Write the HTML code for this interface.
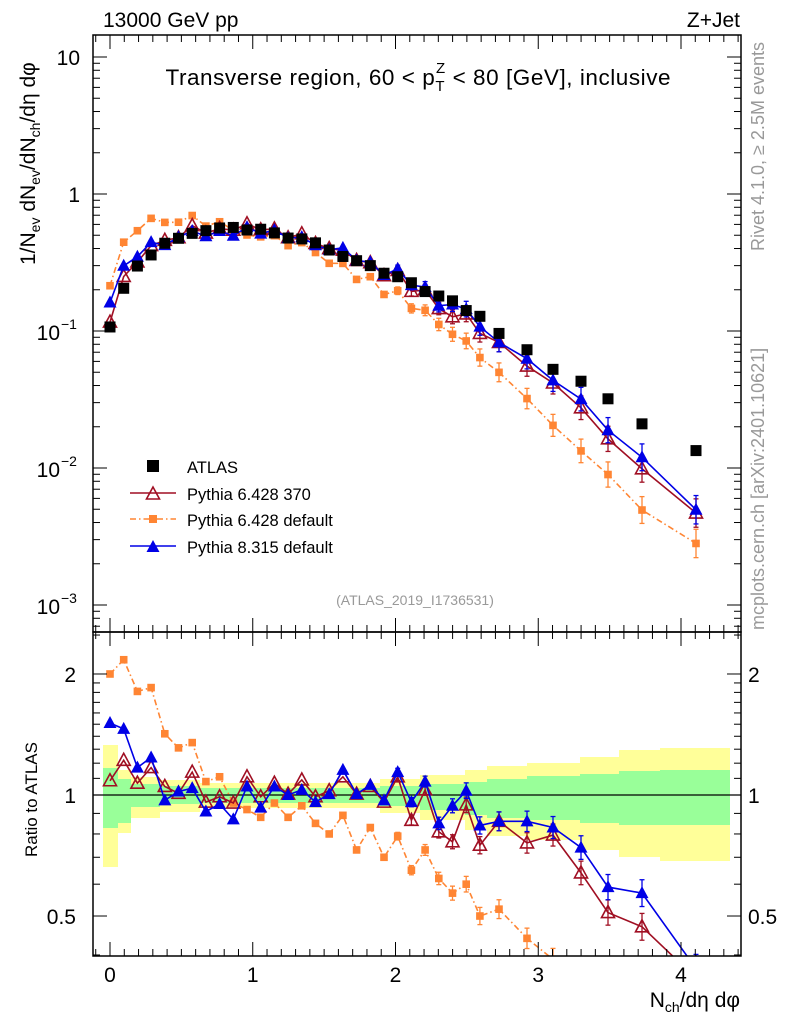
<!DOCTYPE html>
<html><head><meta charset="utf-8">
<style>
html,body{margin:0;padding:0;background:#fff;overflow:hidden;width:786px;height:1024px;}
svg{display:block;font-family:"Liberation Sans",sans-serif;}
</style></head><body>
<svg id="s" width="786" height="1024" xmlns="http://www.w3.org/2000/svg"></svg>
<script>
const S=document.getElementById('s');let h='';
const L=93,R=741,T1=35,B1=632,B2=956;
const X=v=>110+v*142.75;
const Y1=v=>194-137*Math.log10(v);
const Y2=v=>795-402*Math.log10(v);
const bands=[[103,118,745,867,768,828],[118,131,770,833,779,823],[131,160,777,818,784,807],[160,200,780,812,786,804],[200,380,783,808,788,803],[380,420,779,813,786,806],[420,465,775,820,784,810],[465,487,770,830,782,815],[487,527,766,836,779,818],[527,580,763,840,776,820],[580,619,757,850,774,823],[619,660,750,857,771,825],[660,730,748,861,770,825]];
bands.forEach(b=>{h+=`<rect x="${b[0]}" y="${b[2]}" width="${b[1]-b[0]}" height="${b[3]-b[2]}" fill="#ffff99"/>`;});
bands.forEach(b=>{h+=`<rect x="${b[0]}" y="${b[4]}" width="${b[1]-b[0]}" height="${b[5]-b[4]}" fill="#99ff99"/>`;});
h+=`<line x1="${L}" y1="795" x2="${R}" y2="795" stroke="#000" stroke-width="1.3"/>`;
const xs=[];for(let i=0;i<28;i++)xs.push(110+i*13.7);xs.push(499,527,553,581,608,642,696);
const atl=[0.107,0.205,0.298,0.359,0.437,0.475,0.516,0.54,0.565,0.57,0.546,0.553,0.52,0.477,0.47,0.44,0.39,0.35,0.326,0.30,0.264,0.249,0.225,0.194,0.18,0.166,0.141,0.128,0.096,0.073,0.0525,0.043,0.032,0.021,0.0134];
const rO=[2.0,2.17,1.81,1.85,1.42,1.31,1.35,1.08,1.11,0.955,0.92,0.88,0.955,0.88,0.94,0.85,0.80,0.89,0.73,0.83,0.70,0.79,0.65,0.73,0.62,0.57,0.60,0.50,0.52,0.44,0.39,0.31,0.28,0.235,0.21];
const rR=[1.085,1.22,1.07,1.17,1.05,1.01,1.14,0.96,0.99,0.955,1.11,0.99,1.07,1.005,1.09,0.99,1.025,1.11,1.005,1.05,0.96,1.11,0.865,1.03,0.81,0.765,0.945,0.75,0.86,0.76,0.795,0.64,0.51,0.47,0.35];
const rB=[1.51,1.46,1.17,1.24,0.97,1.02,1.04,0.91,0.95,0.87,1.05,0.93,1.05,1.0,1.03,0.96,1.005,1.155,1.005,1.06,0.97,1.14,0.96,1.08,0.85,0.94,1.025,0.84,0.86,0.86,0.83,0.74,0.59,0.57,0.37];
function clipR(id,y0,y1){h+=`<clipPath id="${id}"><rect x="${L}" y="${y0}" width="${R-L}" height="${y1-y0}"/></clipPath>`;}
clipR('c1',T1,B1);clipR('c2',B1,B2);
function series(vals,Y,col,dash,mk,clip,err){
 let p=vals.map((v,i)=>`${xs[i].toFixed(1)},${Y(v).toFixed(1)}`).join(' ');
 let g=`<g clip-path="url(#${clip})"><polyline points="${p}" fill="none" stroke="${col}" stroke-width="1.6" ${dash?'stroke-dasharray="6,3,1.5,3"':''}/>`;
 vals.forEach((v,i)=>{const x=xs[i],y=Y(v);
  if(err&&i>20){const e=3+(i-20)*0.8;g+=`<line x1="${x}" y1="${y-e}" x2="${x}" y2="${y+e}" stroke="${col}" stroke-width="1.3"/><line x1="${x-2.5}" y1="${y-e}" x2="${x+2.5}" y2="${y-e}" stroke="${col}" stroke-width="1.3"/><line x1="${x-2.5}" y1="${y+e}" x2="${x+2.5}" y2="${y+e}" stroke="${col}" stroke-width="1.3"/>`;}
  g+=mk(x,y);});
 h+=g+'</g>';}
const sq=(c,s)=>(x,y)=>`<rect x="${x-s}" y="${y-s}" width="${2*s}" height="${2*s}" fill="${c}"/>`;
const triO=(x,y)=>`<polygon points="${x},${y-7} ${x-6.5},${y+5} ${x+6.5},${y+5}" fill="none" stroke="#a00f23" stroke-width="1.6"/>`;
const triF=(x,y)=>`<polygon points="${x},${y-7} ${x-6.5},${y+5} ${x+6.5},${y+5}" fill="#0000e6"/>`;
series(atl.map((a,i)=>a*rO[i]),Y1,'#ff8533',true,sq('#ff8533',3.8),'c1',true);
series(atl.map((a,i)=>a*rR[i]),Y1,'#a00f23',false,triO,'c1',true);
series(atl.map((a,i)=>a*rB[i]),Y1,'#0000e6',false,triF,'c1',true);
atl.forEach((a,i)=>{h+=sq('#000',5.5)(xs[i],Y1(a));});
series(rO,Y2,'#ff8533',true,sq('#ff8533',3.8),'c2',true);
series(rR,Y2,'#a00f23',false,triO,'c2',true);
series(rB,Y2,'#0000e6',false,triF,'c2',true);
h+=`<rect x="${L}" y="${T1}" width="${R-L}" height="${B1-T1}" fill="none" stroke="#000" stroke-width="1.5"/>`;
h+=`<rect x="${L}" y="${B1}" width="${R-L}" height="${B2-B1}" fill="none" stroke="#000" stroke-width="1.5"/>`;
for(let d=-4;d<=1;d++)for(let m=1;m<10;m++){const y=Y1(m*Math.pow(10,d));if(y<T1||y>B1)continue;const len=m==1?14:7;
 h+=`<line x1="${L}" y1="${y}" x2="${L+len}" y2="${y}" stroke="#000"/><line x1="${R}" y1="${y}" x2="${R-len}" y2="${y}" stroke="#000"/>`;}
h+=`<text x="80" y="65" font-size="21" text-anchor="end">10</text><text x="80" y="202" font-size="21" text-anchor="end">1</text>`;
[[-1,331],[-2,468],[-3,605]].forEach(([e,y])=>{h+=`<text x="60" y="${y+9}" font-size="21" text-anchor="end">10</text><text x="61" y="${y-2}" font-size="14">−${-e}</text>`;});
for(let v=0.4;v<=2.55;v+=(v<2?0.1:0.5)){const y=Y2(v);if(y<B1||y>B2)continue;const major=[0.5,1,2].some(q=>Math.abs(q-v)<1e-6);const len=major?14:7;
 h+=`<line x1="${L}" y1="${y}" x2="${L+len}" y2="${y}" stroke="#000"/><line x1="${R}" y1="${y}" x2="${R-len}" y2="${y}" stroke="#000"/>`;}
[[2,'2'],[1,'1'],[0.5,'0.5']].forEach(([v,t])=>{const y=Y2(v)+8;h+=`<text x="76" y="${y}" font-size="21" text-anchor="end">${t}</text><text x="748" y="${y}" font-size="21">${t}</text>`;});
for(let v=-0.1;v<=4.4;v+=0.1){const x=X(v);if(x<L||x>R)continue;const major=Math.abs(v-Math.round(v))<1e-6;const len=major?14:7;
 h+=`<line x1="${x}" y1="${B1}" x2="${x}" y2="${B1-len}" stroke="#000"/><line x1="${x}" y1="${B2}" x2="${x}" y2="${B2-len}" stroke="#000"/><line x1="${x}" y1="${B1}" x2="${x}" y2="${B1+len}" stroke="#000"/><line x1="${x}" y1="${T1}" x2="${x}" y2="${T1+len}" stroke="#000"/>`;}
for(let k=0;k<=4;k++)h+=`<text x="${X(k)}" y="982" font-size="21" text-anchor="middle">${k}</text>`;
h+=`<text x="103" y="27" font-size="21">13000 GeV pp</text><text x="740" y="27" font-size="21" text-anchor="end">Z+Jet</text>`;
h+=`<text x="418" y="85" font-size="22.5" text-anchor="middle" textLength="505">Transverse region, 60 &lt; p<tspan font-size="15" dy="6">T</tspan><tspan font-size="15" dx="-9" dy="-18">Z</tspan><tspan dy="12"> &lt; 80 [GeV], inclusive</tspan></text>`;
h+=`<text x="415" y="605" font-size="14" fill="#999" text-anchor="middle">(ATLAS_2019_I1736531)</text>`;
h+=`<text transform="translate(35,265) rotate(-90)" font-size="21">1/N<tspan font-size="14" dy="5">ev</tspan><tspan dy="-5"> dN</tspan><tspan font-size="14" dy="5">ev</tspan><tspan dy="-5">/dN</tspan><tspan font-size="14" dy="5">ch</tspan><tspan dy="-5">/dη dφ</tspan></text>`;
h+=`<text transform="translate(37,857) rotate(-90)" font-size="17">Ratio to ATLAS</text>`;
h+=`<text x="740" y="1007" font-size="21" text-anchor="end">N<tspan font-size="14" dy="5">ch</tspan><tspan dy="-5">/dη dφ</tspan></text>`;
h+=`<text transform="translate(764,251) rotate(-90)" font-size="18" fill="#999">Rivet 4.1.0, ≥ 2.5M events</text>`;
h+=`<text transform="translate(764,630) rotate(-90)" font-size="18" fill="#999">mcplots.cern.ch [arXiv:2401.10621]</text>`;
h+=sq('#000',6)(153,466);h+=`<text x="187" y="473" font-size="16.5">ATLAS</text>`;
h+=`<line x1="130" y1="493" x2="176" y2="493" stroke="#a00f23" stroke-width="1.6"/>`+triO(153,494)+`<text x="187" y="500" font-size="16.5">Pythia 6.428 370</text>`;
h+=`<line x1="130" y1="519" x2="176" y2="519" stroke="#ff8533" stroke-width="1.6" stroke-dasharray="6,3,1.5,3"/>`+sq('#ff8533',4)(153,519)+`<text x="187" y="526" font-size="16.5">Pythia 6.428 default</text>`;
h+=`<line x1="130" y1="546" x2="176" y2="546" stroke="#0000e6" stroke-width="1.6"/>`+triF(153,547)+`<text x="187" y="553" font-size="16.5">Pythia 8.315 default</text>`;
S.innerHTML=h;
</script>
</body></html>
